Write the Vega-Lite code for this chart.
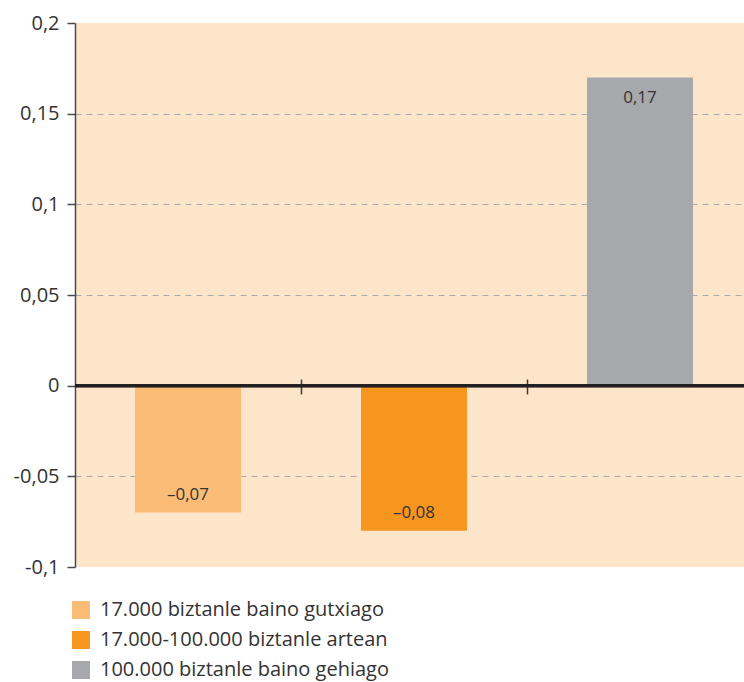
{
  "$schema": "https://vega.github.io/schema/vega-lite/v6.json",
  "width": 669,
  "height": 544,
  "autosize": {"type": "none"},
  "padding": {"left": 75, "top": 23, "right": 0, "bottom": 115},
  "background": "white",
  "config": {
    "font": "Open Sans",
    "view": {"fill": "#FDE5CA", "stroke": null},
    "locale": {"number": {"decimal": ",", "thousands": ".", "grouping": [3], "currency": ["", " €"], "minus": "–"}}
  },
  "data": {"values": [
    {"grupo": "17.000 biztanle baino gutxiago", "valor": -0.07},
    {"grupo": "17.000-100.000 biztanle artean", "valor": -0.08},
    {"grupo": "100.000 biztanle baino gehiago", "valor": 0.17}
  ]},
  "encoding": {
    "x": {
      "field": "grupo", "type": "nominal", "sort": null,
      "scale": {"range": [0, 678], "paddingInner": 0.531, "paddingOuter": 0.2655},
      "axis": {"title": null, "labels": false, "domain": false, "ticks": true, "tickSize": 15, "tickWidth": 1.5, "tickColor": "#3a3a3a", "tickOffset": 113, "offset": -188, "grid": false}
    },
    "y": {
      "field": "valor", "type": "quantitative",
      "scale": {"domain": [-0.1, 0.2], "nice": false, "zero": false},
      "axis": {
        "title": null, "values": [-0.1, -0.05, 0, 0.05, 0.1, 0.15, 0.2],
        "format": "~g",
        "labelExpr": "replace(datum.label, '–', '-')",
        "labelFont": "Open Sans", "labelFontSize": 20, "labelColor": "#333333", "labelPadding": 8,
        "domainColor": "#4a4a4a", "domainWidth": 1.5,
        "tickColor": "#4a4a4a", "tickSize": 8, "tickWidth": 1.5,
        "grid": true, "gridColor": "#a9a9b4", "gridDash": [6, 5], "gridWidth": 1,
        "gridOpacity": {"condition": {"test": "datum.value == 0.2 || datum.value == -0.1 || datum.value == 0", "value": 0}, "value": 1}
      }
    }
  },
  "layer": [
    {
      "mark": {"type": "bar"},
      "encoding": {
        "color": {
          "field": "grupo", "type": "nominal", "sort": null,
          "scale": {"range": ["#FBBD75", "#F7961F", "#A7A8AB"]},
          "legend": {
            "title": null, "orient": "none", "legendX": -4, "legendY": 577,
            "direction": "vertical", "symbolType": "square", "symbolSize": 324,
            "symbolStrokeWidth": 0, "symbolOpacity": 1,
            "labelFont": "Open Sans", "labelFontSize": 20, "labelColor": "#333333",
            "labelOffset": 9, "rowPadding": 10, "padding": 0, "labelLimit": 400
          }
        }
      }
    },
    {
      "mark": {"type": "rule", "color": "#231F20", "strokeWidth": 3},
      "encoding": {"y": {"datum": 0}, "x": null}
    },
    {
      "transform": [{"filter": "datum.valor < 0"}],
      "mark": {"type": "text", "font": "Open Sans", "fontSize": 17, "color": "#333333", "baseline": "middle", "dy": -18},
      "encoding": {"text": {"field": "valor", "type": "quantitative", "format": ".2f"}}
    },
    {
      "transform": [{"filter": "datum.valor >= 0"}],
      "mark": {"type": "text", "font": "Open Sans", "fontSize": 17, "color": "#333333", "baseline": "middle", "dy": 21},
      "encoding": {"text": {"field": "valor", "type": "quantitative", "format": ".2f"}}
    }
  ]
}
